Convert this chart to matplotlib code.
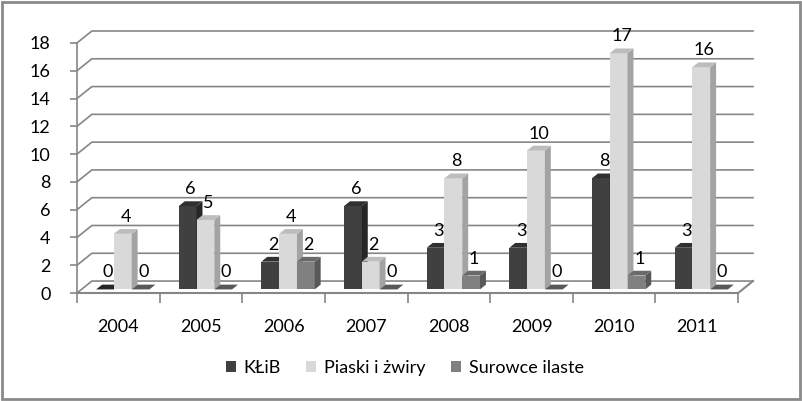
import numpy as np
import matplotlib
matplotlib.use("Agg")
import matplotlib.pyplot as plt
from matplotlib.patches import Polygon, Patch, Rectangle

plt.rcParams['font.family'] = ['Lato', 'DejaVu Sans']

years = ['2004', '2005', '2006', '2007', '2008', '2009', '2010', '2011']
series_names = ['KŁiB', 'Piaski i żwiry', 'Surowce ilaste']
klib = [0, 6, 2, 6, 3, 3, 8, 3]
piaski = [4, 5, 4, 2, 8, 10, 17, 16]
surowce = [0, 0, 2, 0, 1, 0, 1, 0]
y_ticks = [0, 2, 4, 6, 8, 10, 12, 14, 16, 18]

values = [klib, piaski, surowce]
# front, side, top colours for each series
colors = [('#404040', '#262626', '#303030'),
          ('#d9d9d9', '#a3a3a3', '#bdbdbd'),
          ('#808080', '#585858', '#6a6a6a')]
grid_c = '#868686'
fs = 13

# 3d depth of the floor in data units
ddx = 0.18
ddy = 0.86
ymax = 18
n = len(years)

fig = plt.figure(figsize=(8.02, 4.01), dpi=100)
ax = fig.add_axes([77/802, 108/401, 676/802, 262/401])
ax.set_xlim(-0.5, n - 0.5 + ddx)
ax.set_ylim(0, ymax + ddy)
for s in ax.spines.values():
    s.set_visible(False)

# walls: gridlines
for v in y_ticks:
    ax.plot([-0.5, -0.5 + ddx, n - 0.5 + ddx], [v, v + ddy, v + ddy],
            color=grid_c, lw=1.2, clip_on=False, zorder=1)
# front axis and floor
ax.plot([-0.5, -0.5], [0, ymax], color=grid_c, lw=1.2, clip_on=False, zorder=1)
ax.plot([-0.5, n - 0.5, n - 0.5 + ddx], [0, 0, ddy], color=grid_c, lw=1.5,
        clip_on=False, zorder=1)

ax.set_yticks(y_ticks)
ax.set_yticklabels([str(v) for v in y_ticks], fontsize=fs)
ax.tick_params(axis='y', length=5, width=1.2, color=grid_c, pad=14)
ax.set_xticks(np.arange(n + 1) - 0.5)
ax.set_xticklabels([''] * (n + 1))
ax.set_xticks(np.arange(n), minor=True)
ax.set_xticklabels(years, minor=True, fontsize=fs)
ax.tick_params(axis='x', which='major', length=7, width=1.2, color=grid_c)
ax.tick_params(axis='x', which='minor', length=0, pad=19)

w = 0.215
sx, sy = 0.3 * ddx, 0.3 * ddy
bx, by = 0.4 * ddx, 0.4 * ddy
for i in range(n):
    for j in range(3):
        v = values[j][i]
        fc, sc, tc = colors[j]
        x0 = i - 1.5 * w + j * w + sx
        z = 3 + i * 3 + j
        if v > 0:
            ax.bar(x0, v, width=w, bottom=sy, align='edge', color=fc,
                   edgecolor='none', zorder=z)
            side = [(x0 + w, sy), (x0 + w + bx, sy + by),
                    (x0 + w + bx, sy + v + by), (x0 + w, sy + v)]
            ax.add_patch(Polygon(side, closed=True, fc=sc, ec='none', zorder=z))
            topc = tc
        else:
            topc = sc
        top = [(x0, sy + v), (x0 + bx, sy + v + by),
               (x0 + w + bx, sy + v + by), (x0 + w, sy + v)]
        ax.add_patch(Polygon(top, closed=True, fc=topc, ec='none', zorder=z))
        ax.annotate(str(v), (x0 + w / 2 + bx / 2, sy + v + by),
                    xytext=(0, 3), textcoords='offset points',
                    ha='center', va='bottom', fontsize=fs, zorder=40,
                    annotation_clip=False)

handles = [Patch(facecolor=colors[j][0], edgecolor='none') for j in range(3)]
fig.legend(handles, series_names, loc='center', ncol=3, frameon=False,
           bbox_to_anchor=(405/802, 33/401), fontsize=fs,
           handlelength=0.55, handleheight=0.55, handletextpad=0.45,
           columnspacing=1.4)

fig.add_artist(Rectangle((0.003, 0.004), 0.994, 0.99, transform=fig.transFigure,
                         fill=False, ec='#8a8a8a', lw=2))

fig.savefig('out.png', dpi=100)
